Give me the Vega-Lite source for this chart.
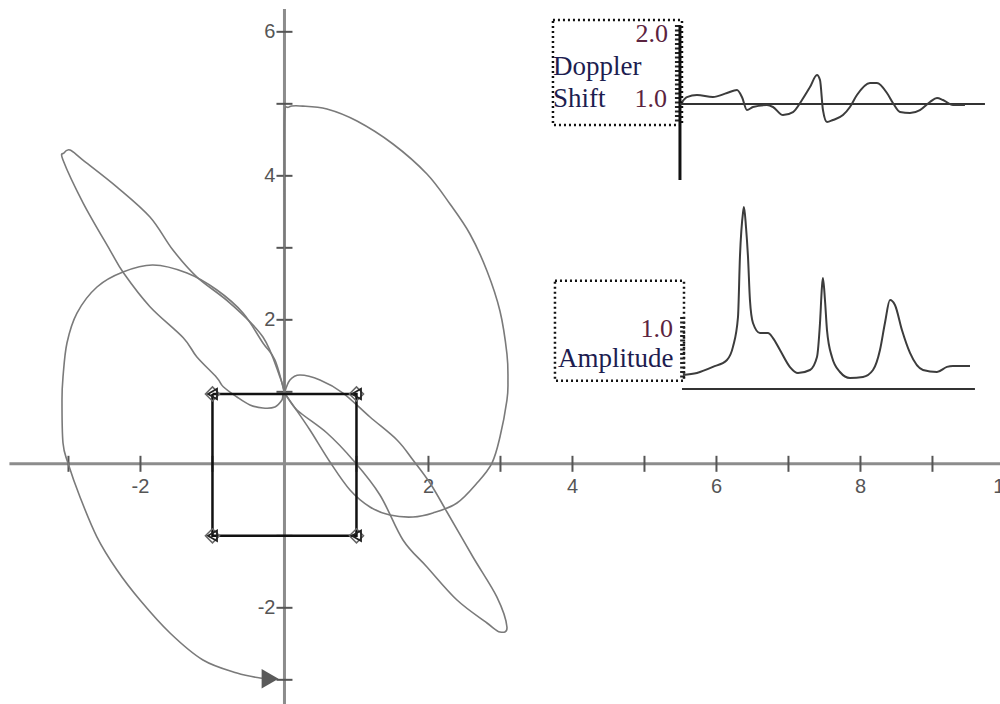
{
  "$schema": "https://vega.github.io/schema/vega-lite/v6.json",
  "width": 1000,
  "height": 704,
  "autosize": {"type": "none"},
  "padding": 0,
  "background": "white",
  "config": {"view": {"stroke": null}},
  "datasets": {
    "axes": [
      {"x": -3.82, "y": 0, "x2": 9.94, "y2": 0},
      {"x": 0, "y": 6.317, "x2": 0, "y2": -3.34}
    ],
    "xticks": [{"x": -3, "y": 0}, {"x": -2, "y": 0}, {"x": -1, "y": 0}, {"x": 1, "y": 0}, {"x": 2, "y": 0}, {"x": 3, "y": 0}, {"x": 4, "y": 0}, {"x": 5, "y": 0}, {"x": 6, "y": 0}, {"x": 7, "y": 0}, {"x": 8, "y": 0}, {"x": 9, "y": 0}],
    "yticks": [{"x": 0, "y": -3}, {"x": 0, "y": -2}, {"x": 0, "y": -1}, {"x": 0, "y": 1}, {"x": 0, "y": 2}, {"x": 0, "y": 3}, {"x": 0, "y": 4}, {"x": 0, "y": 5}, {"x": 0, "y": 6}],
    "xlabels": [{"x": -2, "y": 0, "t": "-2"}, {"x": 2, "y": 0, "t": "2"}, {"x": 4, "y": 0, "t": "4"}, {"x": 6, "y": 0, "t": "6"}, {"x": 8, "y": 0, "t": "8"}, {"x": 10, "y": 0, "t": "10"}],
    "ylabels": [{"x": 0, "y": 6, "t": "6"}, {"x": 0, "y": 4, "t": "4"}, {"x": 0, "y": 2, "t": "2"}, {"x": 0, "y": -2, "t": "-2"}],
    "curves": [
      {"c": "D", "i": 0, "x": 0, "y": 0.98},
      {"c": "D", "i": 1, "x": 0, "y": 2.0},
      {"c": "D", "i": 2, "x": 0, "y": 3.5},
      {"c": "D", "i": 3, "x": 0, "y": 4.8},
      {"c": "D", "i": 4, "x": 0.06, "y": 4.955},
      {"c": "D", "i": 5, "x": 0.257, "y": 4.968},
      {"c": "D", "i": 6, "x": 0.59, "y": 4.928},
      {"c": "D", "i": 7, "x": 1.007, "y": 4.761},
      {"c": "D", "i": 8, "x": 1.507, "y": 4.442},
      {"c": "D", "i": 9, "x": 1.979, "y": 4.025},
      {"c": "D", "i": 10, "x": 2.299, "y": 3.608},
      {"c": "D", "i": 11, "x": 2.576, "y": 3.192},
      {"c": "D", "i": 12, "x": 2.813, "y": 2.678},
      {"c": "D", "i": 13, "x": 2.993, "y": 2.122},
      {"c": "D", "i": 14, "x": 3.09, "y": 1.525},
      {"c": "D", "i": 15, "x": 3.104, "y": 1.15},
      {"c": "D", "i": 16, "x": 3.09, "y": 0.886},
      {"c": "D", "i": 17, "x": 2.993, "y": 0.372},
      {"c": "D", "i": 18, "x": 2.882, "y": 0.011},
      {"c": "D", "i": 19, "x": 2.674, "y": -0.267},
      {"c": "D", "i": 20, "x": 2.396, "y": -0.544},
      {"c": "D", "i": 21, "x": 2.063, "y": -0.683},
      {"c": "D", "i": 22, "x": 1.785, "y": -0.739},
      {"c": "D", "i": 23, "x": 1.465, "y": -0.711},
      {"c": "D", "i": 24, "x": 1.188, "y": -0.6},
      {"c": "D", "i": 25, "x": 0.91, "y": -0.364},
      {"c": "D", "i": 26, "x": 0.632, "y": 0.025},
      {"c": "D", "i": 27, "x": 0.354, "y": 0.469},
      {"c": "D", "i": 28, "x": 0.146, "y": 0.775},
      {"c": "D", "i": 29, "x": 0, "y": 0.98},
      {"c": "E", "i": 0, "x": 0, "y": 0.98},
      {"c": "E", "i": 1, "x": -0.063, "y": 1.206},
      {"c": "E", "i": 2, "x": -0.299, "y": 1.761},
      {"c": "E", "i": 3, "x": -0.757, "y": 2.233},
      {"c": "E", "i": 4, "x": -1.215, "y": 2.594},
      {"c": "E", "i": 5, "x": -1.549, "y": 2.969},
      {"c": "E", "i": 6, "x": -1.868, "y": 3.428},
      {"c": "E", "i": 7, "x": -2.326, "y": 3.844},
      {"c": "E", "i": 8, "x": -2.799, "y": 4.219},
      {"c": "E", "i": 9, "x": -2.979, "y": 4.358},
      {"c": "E", "i": 10, "x": -3.063, "y": 4.317},
      {"c": "E", "i": 11, "x": -3.076, "y": 4.219},
      {"c": "E", "i": 12, "x": -2.794, "y": 3.618},
      {"c": "E", "i": 13, "x": -2.424, "y": 2.969},
      {"c": "E", "i": 14, "x": -2.232, "y": 2.646},
      {"c": "E", "i": 15, "x": -1.868, "y": 2.182},
      {"c": "E", "i": 16, "x": -1.406, "y": 1.751},
      {"c": "E", "i": 17, "x": -1.219, "y": 1.488},
      {"c": "E", "i": 18, "x": -0.942, "y": 1.2},
      {"c": "E", "i": 19, "x": -0.85, "y": 1.071},
      {"c": "E", "i": 20, "x": -0.66, "y": 0.928},
      {"c": "E", "i": 21, "x": -0.479, "y": 0.817},
      {"c": "E", "i": 22, "x": -0.299, "y": 0.775},
      {"c": "E", "i": 23, "x": -0.132, "y": 0.789},
      {"c": "E", "i": 24, "x": -0.035, "y": 0.886},
      {"c": "E", "i": 25, "x": 0, "y": 0.98},
      {"c": "E", "i": 26, "x": 0.174, "y": 0.747},
      {"c": "E", "i": 27, "x": 0.59, "y": 0.428},
      {"c": "E", "i": 28, "x": 0.951, "y": 0.053},
      {"c": "E", "i": 29, "x": 1.326, "y": -0.433},
      {"c": "E", "i": 30, "x": 1.646, "y": -1.058},
      {"c": "E", "i": 31, "x": 1.979, "y": -1.433},
      {"c": "E", "i": 32, "x": 2.396, "y": -1.892},
      {"c": "E", "i": 33, "x": 2.813, "y": -2.211},
      {"c": "E", "i": 34, "x": 2.993, "y": -2.336},
      {"c": "E", "i": 35, "x": 3.09, "y": -2.267},
      {"c": "E", "i": 36, "x": 2.951, "y": -1.851},
      {"c": "E", "i": 37, "x": 2.618, "y": -1.294},
      {"c": "E", "i": 38, "x": 2.257, "y": -0.669},
      {"c": "E", "i": 39, "x": 2.021, "y": -0.267},
      {"c": "E", "i": 40, "x": 1.785, "y": 0.053},
      {"c": "E", "i": 41, "x": 1.563, "y": 0.331},
      {"c": "E", "i": 42, "x": 1.188, "y": 0.65},
      {"c": "E", "i": 43, "x": 0.813, "y": 0.983},
      {"c": "E", "i": 44, "x": 0.493, "y": 1.164},
      {"c": "E", "i": 45, "x": 0.215, "y": 1.233},
      {"c": "E", "i": 46, "x": 0.076, "y": 1.164},
      {"c": "E", "i": 47, "x": 0, "y": 0.98},
      {"c": "B", "i": 0, "x": 0, "y": 0.98},
      {"c": "B", "i": 1, "x": -0.132, "y": 1.442},
      {"c": "B", "i": 2, "x": -0.299, "y": 1.678},
      {"c": "B", "i": 3, "x": -0.576, "y": 2.094},
      {"c": "B", "i": 4, "x": -0.938, "y": 2.414},
      {"c": "B", "i": 5, "x": -1.354, "y": 2.65},
      {"c": "B", "i": 6, "x": -1.826, "y": 2.761},
      {"c": "B", "i": 7, "x": -2.243, "y": 2.664},
      {"c": "B", "i": 8, "x": -2.604, "y": 2.456},
      {"c": "B", "i": 9, "x": -2.882, "y": 2.094},
      {"c": "B", "i": 10, "x": -3.021, "y": 1.678},
      {"c": "B", "i": 11, "x": -3.076, "y": 1.206},
      {"c": "B", "i": 12, "x": -3.09, "y": 0.886},
      {"c": "B", "i": 13, "x": -3.076, "y": 0.289},
      {"c": "B", "i": 14, "x": -3.007, "y": 0.011},
      {"c": "B", "i": 15, "x": -2.84, "y": -0.461},
      {"c": "B", "i": 16, "x": -2.604, "y": -1.017},
      {"c": "B", "i": 17, "x": -2.326, "y": -1.475},
      {"c": "B", "i": 18, "x": -2.007, "y": -1.892},
      {"c": "B", "i": 19, "x": -1.59, "y": -2.35},
      {"c": "B", "i": 20, "x": -1.132, "y": -2.725},
      {"c": "B", "i": 21, "x": -0.66, "y": -2.906},
      {"c": "B", "i": 22, "x": -0.34, "y": -2.975},
      {"c": "B", "i": 23, "x": -0.2, "y": -2.985}
    ],
    "square": [
      {"i": 0, "x": -1, "y": 0.97},
      {"i": 1, "x": 1, "y": 0.97},
      {"i": 2, "x": 1, "y": -1.0},
      {"i": 3, "x": -1, "y": -1.0},
      {"i": 4, "x": -1, "y": 0.97}
    ],
    "corners": [
      {"c": "TL", "x": -1, "y": 0.97},
      {"c": "TR", "x": 1, "y": 0.97},
      {"c": "BR", "x": 1, "y": -1.0},
      {"c": "BL", "x": -1, "y": -1.0}
    ],
    "arrow": [{"x": -0.2, "y": -2.985}],
    "boxes": [
      {"b": "doppler", "x": 3.729, "x2": 5.521, "y": 6.164, "y2": 4.706},
      {"b": "amplitude", "x": 3.757, "x2": 5.549, "y": 2.543, "y2": 1.154}
    ],
    "insetAxis": [{"x": 5.493, "y": 6.094, "x2": 5.493, "y2": 3.942}],
    "insetBase": [
      {"x": 5.493, "y": 4.997, "x2": 9.729, "y2": 4.997},
      {"x": 5.521, "y": 1.039, "x2": 9.59, "y2": 1.039}
    ],
    "rulers": [
      {"x": 5.458, "y": 6.094, "x2": 5.458, "y2": 4.733},
      {"x": 5.53, "y": 2.039, "x2": 5.53, "y2": 1.165}
    ],
    "spectra": [
      {"s": "doppler", "i": 0, "x": 5.521, "y": 5.025},
      {"s": "doppler", "i": 1, "x": 5.59, "y": 5.094},
      {"s": "doppler", "i": 2, "x": 5.729, "y": 5.122},
      {"s": "doppler", "i": 3, "x": 5.951, "y": 5.094},
      {"s": "doppler", "i": 4, "x": 6.146, "y": 5.15},
      {"s": "doppler", "i": 5, "x": 6.285, "y": 5.192},
      {"s": "doppler", "i": 6, "x": 6.354, "y": 5.094},
      {"s": "doppler", "i": 7, "x": 6.424, "y": 4.914},
      {"s": "doppler", "i": 8, "x": 6.507, "y": 4.956},
      {"s": "doppler", "i": 9, "x": 6.701, "y": 4.983},
      {"s": "doppler", "i": 10, "x": 6.785, "y": 4.956},
      {"s": "doppler", "i": 11, "x": 6.924, "y": 4.844},
      {"s": "doppler", "i": 12, "x": 7.063, "y": 4.886},
      {"s": "doppler", "i": 13, "x": 7.188, "y": 5.053},
      {"s": "doppler", "i": 14, "x": 7.299, "y": 5.233},
      {"s": "doppler", "i": 15, "x": 7.396, "y": 5.4},
      {"s": "doppler", "i": 16, "x": 7.438, "y": 5.331},
      {"s": "doppler", "i": 17, "x": 7.479, "y": 4.914},
      {"s": "doppler", "i": 18, "x": 7.535, "y": 4.747},
      {"s": "doppler", "i": 19, "x": 7.618, "y": 4.775},
      {"s": "doppler", "i": 20, "x": 7.757, "y": 4.844},
      {"s": "doppler", "i": 21, "x": 7.854, "y": 4.956},
      {"s": "doppler", "i": 22, "x": 7.951, "y": 5.122},
      {"s": "doppler", "i": 23, "x": 8.132, "y": 5.289},
      {"s": "doppler", "i": 24, "x": 8.229, "y": 5.289},
      {"s": "doppler", "i": 25, "x": 8.368, "y": 5.15},
      {"s": "doppler", "i": 26, "x": 8.451, "y": 5.011},
      {"s": "doppler", "i": 27, "x": 8.549, "y": 4.886},
      {"s": "doppler", "i": 28, "x": 8.688, "y": 4.872},
      {"s": "doppler", "i": 29, "x": 8.826, "y": 4.914},
      {"s": "doppler", "i": 30, "x": 8.965, "y": 5.025},
      {"s": "doppler", "i": 31, "x": 9.063, "y": 5.081},
      {"s": "doppler", "i": 32, "x": 9.146, "y": 5.053},
      {"s": "doppler", "i": 33, "x": 9.285, "y": 4.983},
      {"s": "doppler", "i": 34, "x": 9.451, "y": 4.983},
      {"s": "amplitude", "i": 0, "x": 5.535, "y": 1.235},
      {"s": "amplitude", "i": 1, "x": 5.729, "y": 1.262},
      {"s": "amplitude", "i": 2, "x": 5.951, "y": 1.346},
      {"s": "amplitude", "i": 3, "x": 6.146, "y": 1.443},
      {"s": "amplitude", "i": 4, "x": 6.229, "y": 1.624},
      {"s": "amplitude", "i": 5, "x": 6.299, "y": 2.039},
      {"s": "amplitude", "i": 6, "x": 6.326, "y": 2.872},
      {"s": "amplitude", "i": 7, "x": 6.368, "y": 3.483},
      {"s": "amplitude", "i": 8, "x": 6.382, "y": 3.567},
      {"s": "amplitude", "i": 9, "x": 6.41, "y": 3.289},
      {"s": "amplitude", "i": 10, "x": 6.438, "y": 2.872},
      {"s": "amplitude", "i": 11, "x": 6.465, "y": 2.275},
      {"s": "amplitude", "i": 12, "x": 6.507, "y": 1.956},
      {"s": "amplitude", "i": 13, "x": 6.604, "y": 1.817},
      {"s": "amplitude", "i": 14, "x": 6.715, "y": 1.817},
      {"s": "amplitude", "i": 15, "x": 6.785, "y": 1.747},
      {"s": "amplitude", "i": 16, "x": 6.882, "y": 1.581},
      {"s": "amplitude", "i": 17, "x": 7.021, "y": 1.344},
      {"s": "amplitude", "i": 18, "x": 7.132, "y": 1.261},
      {"s": "amplitude", "i": 19, "x": 7.299, "y": 1.303},
      {"s": "amplitude", "i": 20, "x": 7.396, "y": 1.483},
      {"s": "amplitude", "i": 21, "x": 7.438, "y": 1.956},
      {"s": "amplitude", "i": 22, "x": 7.465, "y": 2.456},
      {"s": "amplitude", "i": 23, "x": 7.479, "y": 2.581},
      {"s": "amplitude", "i": 24, "x": 7.507, "y": 2.275},
      {"s": "amplitude", "i": 25, "x": 7.535, "y": 1.858},
      {"s": "amplitude", "i": 26, "x": 7.604, "y": 1.483},
      {"s": "amplitude", "i": 27, "x": 7.715, "y": 1.275},
      {"s": "amplitude", "i": 28, "x": 7.854, "y": 1.192},
      {"s": "amplitude", "i": 29, "x": 8.035, "y": 1.206},
      {"s": "amplitude", "i": 30, "x": 8.174, "y": 1.303},
      {"s": "amplitude", "i": 31, "x": 8.271, "y": 1.581},
      {"s": "amplitude", "i": 32, "x": 8.34, "y": 1.956},
      {"s": "amplitude", "i": 33, "x": 8.41, "y": 2.275},
      {"s": "amplitude", "i": 34, "x": 8.479, "y": 2.206},
      {"s": "amplitude", "i": 35, "x": 8.576, "y": 1.858},
      {"s": "amplitude", "i": 36, "x": 8.688, "y": 1.54},
      {"s": "amplitude", "i": 37, "x": 8.868, "y": 1.303},
      {"s": "amplitude", "i": 38, "x": 9.063, "y": 1.275},
      {"s": "amplitude", "i": 39, "x": 9.201, "y": 1.346},
      {"s": "amplitude", "i": 40, "x": 9.285, "y": 1.358},
      {"s": "amplitude", "i": 41, "x": 9.521, "y": 1.358}
    ],
    "insetWords": [
      {"x": 3.729, "y": 5.4, "t": "Doppler"},
      {"x": 3.729, "y": 4.955, "t": "Shift"},
      {"x": 3.799, "y": 1.344, "t": "Amplitude"}
    ],
    "insetNums": [
      {"x": 5.326, "y": 5.858, "t": "2.0"},
      {"x": 5.313, "y": 4.955, "t": "1.0"},
      {"x": 5.396, "y": 1.761, "t": "1.0"}
    ]
  },
  "encoding": {
    "x": {"field": "x", "type": "quantitative", "scale": {"domain": [-3.951, 9.938], "nice": false, "zero": false}, "axis": null},
    "y": {"field": "y", "type": "quantitative", "scale": {"domain": [-3.336, 6.442], "nice": false, "zero": false}, "axis": null}
  },
  "layer": [
    {
      "data": {"name": "axes"},
      "mark": {"type": "rule", "stroke": "#8c8c8c", "strokeWidth": 3},
      "encoding": {"x2": {"field": "x2"}, "y2": {"field": "y2"}}
    },
    {
      "data": {"name": "xticks"},
      "mark": {"type": "tick", "orient": "vertical", "size": 16, "thickness": 2, "color": "#555555", "opacity": 1}
    },
    {
      "data": {"name": "yticks"},
      "mark": {"type": "tick", "orient": "horizontal", "size": 16, "thickness": 2, "color": "#555555", "opacity": 1}
    },
    {
      "data": {"name": "xlabels"},
      "mark": {"type": "text", "font": "Liberation Sans", "fontSize": 20, "fill": "#555555", "align": "center", "baseline": "middle", "dy": 23},
      "encoding": {"text": {"field": "t"}}
    },
    {
      "data": {"name": "ylabels"},
      "mark": {"type": "text", "font": "Liberation Sans", "fontSize": 20, "fill": "#555555", "align": "right", "baseline": "middle", "dx": -9},
      "encoding": {"text": {"field": "t"}}
    },
    {
      "data": {"name": "curves"},
      "mark": {"type": "line", "stroke": "#7a7a7a", "strokeWidth": 1.6, "interpolate": "cardinal"},
      "encoding": {"detail": {"field": "c"}, "order": {"field": "i", "type": "quantitative"}}
    },
    {
      "data": {"name": "square"},
      "mark": {"type": "line", "stroke": "#111111", "strokeWidth": 2.5},
      "encoding": {"order": {"field": "i", "type": "quantitative"}}
    },
    {
      "data": {"name": "corners"},
      "mark": {"type": "point", "shape": "diamond", "size": 200, "filled": false, "stroke": "#666666", "strokeWidth": 1.5, "opacity": 1}
    },
    {
      "data": {"name": "corners"},
      "mark": {"type": "point", "shape": "triangle-left", "size": 110, "filled": false, "stroke": "#222222", "strokeWidth": 1.8, "opacity": 1}
    },
    {
      "data": {"name": "arrow"},
      "mark": {"type": "point", "shape": "triangle-right", "size": 380, "filled": true, "fill": "#5a5a5a", "opacity": 1, "strokeWidth": 0}
    },
    {
      "data": {"name": "boxes"},
      "mark": {"type": "rect", "fill": null, "fillOpacity": 0, "stroke": "#111111", "strokeWidth": 2.5, "strokeDash": [2, 3]},
      "encoding": {"x2": {"field": "x2"}, "y2": {"field": "y2"}}
    },
    {
      "data": {"name": "rulers"},
      "mark": {"type": "rule", "stroke": "#222222", "strokeWidth": 5, "strokeDash": [2, 2.5]},
      "encoding": {"x2": {"field": "x2"}, "y2": {"field": "y2"}}
    },
    {
      "data": {"name": "insetAxis"},
      "mark": {"type": "rule", "stroke": "#111111", "strokeWidth": 3},
      "encoding": {"x2": {"field": "x2"}, "y2": {"field": "y2"}}
    },
    {
      "data": {"name": "insetBase"},
      "mark": {"type": "rule", "stroke": "#333333", "strokeWidth": 2},
      "encoding": {"x2": {"field": "x2"}, "y2": {"field": "y2"}}
    },
    {
      "data": {"name": "spectra"},
      "mark": {"type": "line", "stroke": "#3c3c3c", "strokeWidth": 2, "interpolate": "monotone"},
      "encoding": {"detail": {"field": "s"}, "order": {"field": "i", "type": "quantitative"}}
    },
    {
      "data": {"name": "insetWords"},
      "mark": {"type": "text", "font": "Liberation Serif", "fontSize": 27, "fill": "#1d1d50", "align": "left", "baseline": "alphabetic"},
      "encoding": {"text": {"field": "t"}}
    },
    {
      "data": {"name": "insetNums"},
      "mark": {"type": "text", "font": "Liberation Serif", "fontSize": 26, "fill": "#5b2340", "align": "right", "baseline": "alphabetic"},
      "encoding": {"text": {"field": "t"}}
    }
  ]
}
